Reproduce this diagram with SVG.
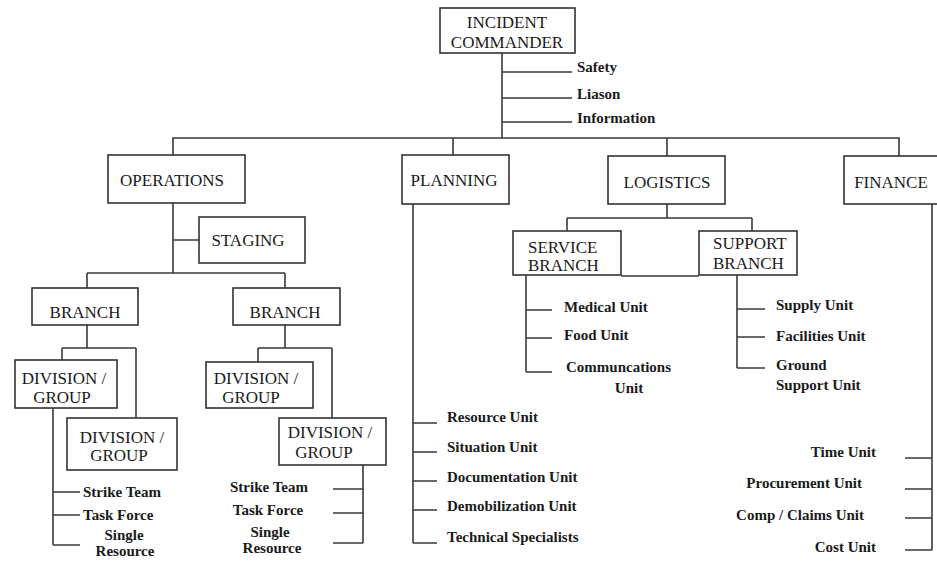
<svg xmlns="http://www.w3.org/2000/svg" width="937" height="561" viewBox="0 0 937 561">
<style>
.box{fill:#fff;stroke:#333;stroke-width:1.6}
.ln{fill:none;stroke:#3a3a3a;stroke-width:1.6}
.t{font-family:"Liberation Serif",serif;font-size:17px;fill:#1a1a1a;text-anchor:middle}
.u{font-family:"Liberation Serif",serif;font-size:15px;font-weight:bold;fill:#1a1a1a}
.m{text-anchor:middle}
.e{text-anchor:end}
.l{text-anchor:start}
</style>
<rect width="937" height="561" fill="#fff"/>
<g id="connectors" class="ln">
<path d="M502 53V138M502 72H572M502 98H572M502 122H572"/>
<path d="M173 155V138H899V156M453 138V155M667 138V156"/>
<path d="M173 203V273M173 240H199M87 273H285M87 273V288M285 273V288"/>
<path d="M87 325V348M62 348H136M62 348V360M136 348V418"/>
<path d="M53 408V545M53 492H80M53 515H80M53 545H80"/>
<path d="M285 325V348M258 348H332M258 348V362M332 348V418"/>
<path d="M363 465V543M333 489H363M333 513H363M333 543H363"/>
<path d="M413 204V543M413 423H437M413 452H437M413 481H437M413 510H437M413 543H437"/>
<path d="M667 204V218M567 218H752M567 218V231M752 218V231M621 276H699"/>
<path d="M526 275V372M526 310H552M526 338H552M526 372H552"/>
<path d="M737 275V368M737 309H765M737 337H765M737 368H765"/>
<path d="M932 204V550M905 458H932M905 489H932M905 518H932M905 550H932"/>
</g>
<g id="commander"><rect class="box" x="440" y="8" width="135" height="45"/><text class="t" x="507" y="28">INCIDENT</text><text class="t" x="507" y="48">COMMANDER</text></g>
<g id="safety"><text class="u" x="577" y="72">Safety</text></g>
<g id="liason"><text class="u" x="577" y="99">Liason</text></g>
<g id="information"><text class="u" x="577" y="123">Information</text></g>
<g id="operations"><rect class="box" x="108" y="155" width="137" height="48"/><text class="t" x="172" y="186">OPERATIONS</text></g>
<g id="staging"><rect class="box" x="199" y="217" width="106" height="46"/><text class="t" x="248" y="246">STAGING</text></g>
<g id="planning"><rect class="box" x="402" y="155" width="107" height="49"/><text class="t" x="454" y="186">PLANNING</text></g>
<g id="logistics"><rect class="box" x="608" y="156" width="117" height="48"/><text class="t" x="667" y="188">LOGISTICS</text></g>
<g id="finance"><rect class="box" x="844" y="156" width="100" height="48"/><text class="t" x="891" y="188">FINANCE</text></g>
<g id="branch1"><rect class="box" x="32" y="288" width="106" height="37"/><text class="t" x="85" y="318" font-size="18">BRANCH</text></g>
<g id="branch2"><rect class="box" x="233" y="288" width="107" height="37"/><text class="t" x="285" y="318" font-size="18">BRANCH</text></g>
<g id="div1"><rect class="box" x="15" y="360" width="102" height="48"/><text class="t" x="64" y="384" font-size="18">DIVISION /</text><text class="t" x="62" y="403" font-size="18">GROUP</text></g>
<g id="div2"><rect class="box" x="67" y="418" width="110" height="52"/><text class="t" x="122" y="443" font-size="18">DIVISION /</text><text class="t" x="119" y="461" font-size="18">GROUP</text></g>
<g id="div3"><rect class="box" x="206" y="362" width="107" height="46"/><text class="t" x="256" y="384" font-size="18">DIVISION /</text><text class="t" x="251" y="403" font-size="18">GROUP</text></g>
<g id="div4"><rect class="box" x="279" y="418" width="107" height="47"/><text class="t" x="330" y="438" font-size="18">DIVISION /</text><text class="t" x="324" y="458" font-size="18">GROUP</text></g>
<g id="left-resources">
<text class="u" x="83" y="497">Strike Team</text>
<text class="u" x="83" y="520">Task Force</text>
<text class="u m" x="124" y="540">Single</text>
<text class="u m" x="125" y="556">Resource</text>
</g>
<g id="right-resources">
<text class="u m" x="269" y="492">Strike Team</text>
<text class="u m" x="268" y="515">Task Force</text>
<text class="u m" x="270" y="537">Single</text>
<text class="u m" x="272" y="553">Resource</text>
</g>
<g id="planning-units">
<text class="u" x="447" y="422">Resource Unit</text>
<text class="u" x="447" y="452">Situation Unit</text>
<text class="u" x="447" y="482">Documentation Unit</text>
<text class="u" x="447" y="511">Demobilization Unit</text>
<text class="u" x="447" y="542">Technical Specialists</text>
</g>
<g id="service-branch"><rect class="box" x="513" y="231" width="108" height="44"/><text class="t l" x="528" y="253">SERVICE</text><text class="t l" x="528" y="271">BRANCH</text></g>
<g id="support-branch"><rect class="box" x="699" y="231" width="98" height="44"/><text class="t l" x="713" y="249">SUPPORT</text><text class="t l" x="713" y="269">BRANCH</text></g>
<g id="service-units">
<text class="u" x="564" y="312">Medical Unit</text>
<text class="u" x="564" y="340">Food Unit</text>
<text class="u" x="566" y="372">Communcations</text>
<text class="u m" x="629" y="393">Unit</text>
</g>
<g id="support-units">
<text class="u" x="776" y="310">Supply Unit</text>
<text class="u" x="776" y="341">Facilities Unit</text>
<text class="u" x="776" y="370">Ground</text>
<text class="u" x="776" y="390">Support Unit</text>
</g>
<g id="finance-units">
<text class="u e" x="876" y="457">Time Unit</text>
<text class="u e" x="862" y="488">Procurement Unit</text>
<text class="u e" x="864" y="520">Comp / Claims Unit</text>
<text class="u e" x="876" y="552">Cost Unit</text>
</g>
</svg>
